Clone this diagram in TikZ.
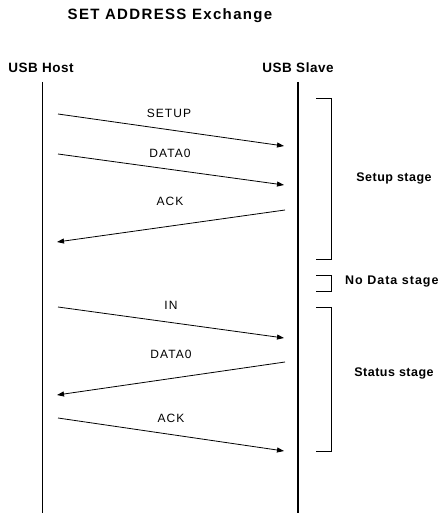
\documentclass[tikz,border=0pt]{standalone}
\usepackage{fontspec}
\setmainfont{Liberation Sans}
\newfontfamily\ttlfont[LetterSpace=9]{Liberation Sans}
\newfontfamily\hdrfont[LetterSpace=4]{Liberation Sans}
\newfontfamily\ndfont[LetterSpace=8]{Liberation Sans}
\newfontfamily\lblfont[LetterSpace=9]{Liberation Sans}
\usetikzlibrary{arrows.meta}
\begin{document}
\begin{tikzpicture}[x=1pt,y=-1pt,
  msg/.style={line width=0.8pt,-{Triangle[length=7pt,width=5pt]}},
  lbl/.style={font=\lblfont\fontsize{12}{14}\selectfont,inner sep=0pt},
  hdr/.style={font=\hdrfont\bfseries\fontsize{13.5}{15}\selectfont,inner sep=0pt},
  stg/.style={font=\hdrfont\bfseries\fontsize{12.5}{14}\selectfont,inner sep=0pt},
  brk/.style={line width=0.8pt}]
\useasboundingbox (0,0) rectangle (444,513);
\node[font=\ttlfont\bfseries\fontsize{15}{17}\selectfont,inner sep=0pt] (title) at (170,16) {SET ADDRESS Exchange};
\node[hdr] (host) at (41,68) {USB Host};
\node[hdr] (slave) at (298,68) {USB Slave};
% lifelines
\coordinate (h0) at (42,82); \coordinate (h1) at (42,513);
\coordinate (s0) at (298,82); \coordinate (s1) at (298,513);
\draw[line width=0.9pt] (h0) -- (h1);
\draw[line width=1.6pt] (s0) -- (s1);
% message end points
\coordinate (a1) at (58,114); \coordinate (b1) at (284,146);
\coordinate (a2) at (58,154); \coordinate (b2) at (284,185);
\coordinate (b3) at (285,210); \coordinate (a3) at (57,242);
\coordinate (a4) at (58,307); \coordinate (b4) at (284,338);
\coordinate (b5) at (285,362); \coordinate (a5) at (57,395);
\coordinate (a6) at (58,418); \coordinate (b6) at (284,451);
\draw[msg] (a1) -- (b1);
\draw[msg] (a2) -- (b2);
\draw[msg] (b3) -- (a3);
\draw[msg] (a4) -- (b4);
\draw[msg] (b5) -- (a5);
\draw[msg] (a6) -- (b6);
\node[lbl] (l1) at (169,113) {SETUP};
\node[lbl] (l2) at (170,153) {DATA0};
\node[lbl] (l3) at (170,201) {ACK};
\node[lbl] (l4) at (171,305) {IN};
\node[lbl] (l5) at (171,354) {DATA0};
\node[lbl] (l6) at (171,418) {ACK};
% brackets
\draw[brk] (316,98) -- (331,98) -- (331,259) -- (316,259);
\draw[brk] (316,275) -- (331,275) -- (331,291) -- (316,291);
\draw[brk] (316,307) -- (331,307) -- (331,451) -- (316,451);
\node[stg] (st1) at (394,178) {Setup stage};
\node[font=\ndfont\bfseries\fontsize{12.5}{14}\selectfont,inner sep=0pt,anchor=west] (st2) at (345,282) {No Data stage};
\node[stg] (st3) at (394,373) {Status stage};
\end{tikzpicture}
\end{document}
